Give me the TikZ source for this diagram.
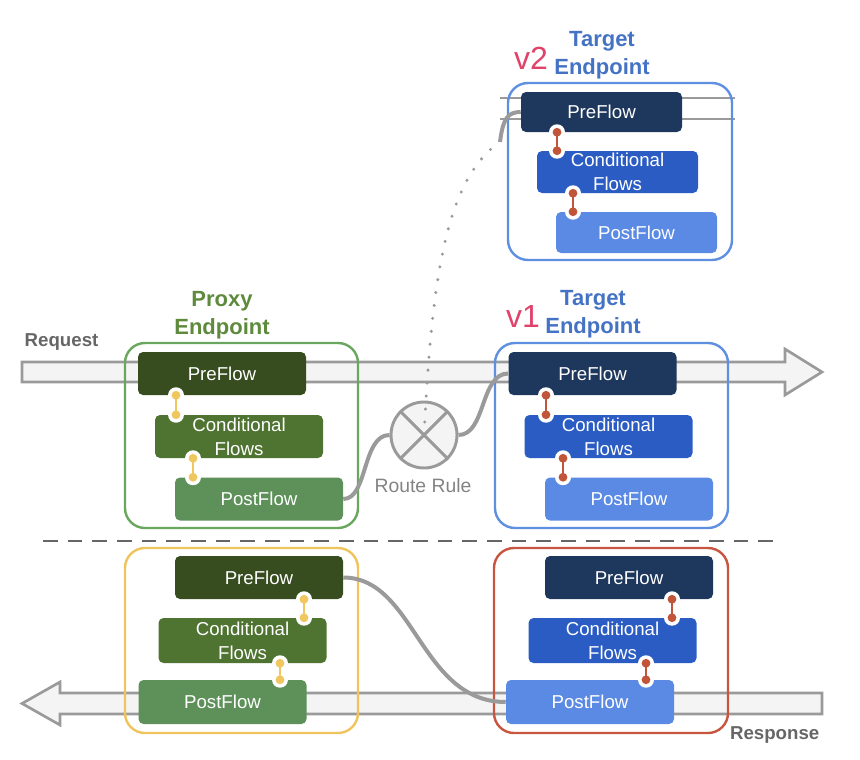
\documentclass[tikz,border=0pt]{standalone}
\usepackage{fontspec}
\setmainfont{Liberation Sans}
\usepackage{xcolor}
\usetikzlibrary{calc}

\definecolor{pxDark}{HTML}{374D20}
\definecolor{pxMid}{HTML}{4F7331}
\definecolor{pxLight}{HTML}{5D9159}
\definecolor{tgDark}{HTML}{1E375C}
\definecolor{tgMid}{HTML}{2A5CC4}
\definecolor{tgLight}{HTML}{5A8AE4}
\definecolor{pxEdge}{HTML}{6AA75E}
\definecolor{tgEdge}{HTML}{5E8FE0}
\definecolor{rsProxyEdge}{HTML}{F0C45C}
\definecolor{rsTargetEdge}{HTML}{C8553F}
\definecolor{pxTitle}{HTML}{5D8A3C}
\definecolor{tgTitle}{HTML}{4472C4}
\definecolor{linkYellow}{HTML}{F0C75E}
\definecolor{linkRed}{HTML}{C0553A}
\definecolor{verPink}{HTML}{E0436A}
\definecolor{wireGray}{HTML}{9A9A9A}
\definecolor{barFill}{HTML}{F4F4F4}
\definecolor{labelGray}{HTML}{666666}

% link with white ring between two stacked flows: colour, upper, lower, x
\newcommand{\flowlink}[4]{%
	\fill[white] (#4,0 |- #2.south) circle (6pt);
	\fill[white] (#4,0 |- #3.north) circle (6pt);
	\draw[#1,line width=2.2pt] (#4,0 |- #2.south) -- (#4,0 |- #3.north);
	\fill[#1] (#4,0 |- #2.south) circle (3.3pt);
	\fill[#1] (#4,0 |- #3.north) circle (3.3pt);
}

\begin{document}
\begin{tikzpicture}[x=0.75pt,y=-0.75pt,
		flowbox/.style={rounded corners=3.75pt,text=white,inner sep=0pt,align=center,
			minimum width=126pt,minimum height=32.25pt,font=\fontsize{14}{18}\selectfont},
		epbox/.style={draw,line width=1.8pt,rounded corners=15pt,inner sep=0pt},
		eptitle/.style={align=center,font=\fontsize{16.5}{21}\selectfont\bfseries},
		vlabel/.style={text=verPink,font=\fontsize{24}{24}\selectfont},
		flowline/.style={wireGray,line width=3pt},
		bararrow/.style={fill=barFill,draw=wireGray,line width=2pt,line join=miter}]
		\useasboundingbox (0,0) rectangle (860,760);
		% request and response bars
		\draw[bararrow] (22,362) -- (785,362) -- (785,349) -- (822,372) -- (785,395) -- (785,382) -- (22,382) -- cycle;
		\draw[bararrow] (822,693) -- (60,693) -- (60,682) -- (22,703.5) -- (60,725) -- (60,714) -- (822,714) -- cycle;
		\draw[wireGray,line width=2pt] (500,98) -- (735,98);
		\draw[wireGray,line width=2pt] (500,119) -- (735,119);
		\node[anchor=west,text=labelGray,font=\fontsize{14}{14}\selectfont\bfseries] (reqLabel) at (20,342) {Request};
		\node[anchor=east,text=labelGray,font=\fontsize{14}{14}\selectfont\bfseries] (resLabel) at (824,735) {Response};
		% separator
		\draw[labelGray,line width=2pt,dash pattern=on 11pt off 7.5pt] (43,541) -- (780,541);
		% proxy endpoint, request
		\node[flowbox,fill=pxDark] (pxPre) at (222,373.5) {PreFlow};
		\node[flowbox,fill=pxMid] (pxCond) at (239,436.5) {Conditional\\Flows};
		\node[flowbox,fill=pxLight] (pxPost) at (259,499) {PostFlow};
		\node[epbox,draw=pxEdge,minimum width=174.75pt,minimum height=138.75pt] (pxBox) at (241.5,435.5) {};
		\node[eptitle,text=pxTitle] (pxTitle) at (222,315) {Proxy\\Endpoint};
		% target endpoint v1
		\node[flowbox,fill=tgDark] (t1Pre) at (592.5,373.5) {PreFlow};
		\node[flowbox,fill=tgMid] (t1Cond) at (608.5,436.5) {Conditional\\Flows};
		\node[flowbox,fill=tgLight] (t1Post) at (629,499) {PostFlow};
		\node[epbox,draw=tgEdge,minimum width=174.75pt,minimum height=138.75pt] (t1Box) at (611.5,435.5) {};
		\node[eptitle,text=tgTitle] (t1Title) at (593,314) {Target\\Endpoint};
		\node[vlabel] (t1Ver) at (523,316) {v1};
		% target endpoint v2
		\node[flowbox,fill=tgDark,minimum width=120.75pt,minimum height=30pt] (t2Pre) at (601.5,112) {PreFlow};
		\node[flowbox,fill=tgMid,minimum width=120.75pt,minimum height=31.5pt] (t2Cond) at (617.5,172) {Conditional\\Flows};
		\node[flowbox,fill=tgLight,minimum width=120.75pt,minimum height=30.75pt] (t2Post) at (636.5,232.5) {PostFlow};
		\node[epbox,draw=tgEdge,minimum width=168pt,minimum height=132.75pt] (t2Box) at (620,171.5) {};
		\node[eptitle,text=tgTitle] (t2Title) at (602,55) {Target\\Endpoint};
		\node[vlabel] (t2Ver) at (531,58) {v2};
		% route rule
		\node[circle,draw=wireGray,fill=barFill,line width=2.2pt,minimum size=49.5pt] (rr) at (424,435) {};
		\draw[wireGray,line width=2.2pt] (rr.north west) -- (rr.south east);
		\draw[wireGray,line width=2.2pt] (rr.north east) -- (rr.south west);
		\node[text=wireGray!85!black,font=\fontsize{14.5}{14.5}\selectfont] (rrLabel) at (423,486) {Route Rule};
		\coordinate (rrEnd) at (500,142);
		\draw[wireGray,line width=2.5pt,line cap=round,dash pattern=on 0pt off 9.75pt] (rr.center) .. controls (432,280) and (445,180) .. (rrEnd);
		\draw[flowline] (rrEnd) .. controls (503,118) and (508,112) .. (t2Pre.west);
		\draw[flowline] (pxPost.east) .. controls (368,499) and (362,435) .. (rr.west);
		\draw[flowline] (rr.east) .. controls (486,435) and (480,373.5) .. (t1Pre.west);
		% response side
		\node[flowbox,fill=pxDark] (rpPre) at (259,577.5) {PreFlow};
		\node[flowbox,fill=pxMid,minimum height=33.75pt] (rpCond) at (242.5,640.5) {Conditional\\Flows};
		\node[flowbox,fill=pxLight,minimum height=33pt] (rpPost) at (222.5,702) {PostFlow};
		\node[epbox,draw=rsProxyEdge,minimum width=174.75pt,minimum height=138.75pt] (rpBox) at (241.5,640.5) {};
		\node[flowbox,fill=tgDark] (rtPre) at (629,577.5) {PreFlow};
		\node[flowbox,fill=tgMid,minimum height=33.75pt] (rtCond) at (612.5,640.5) {Conditional\\Flows};
		\node[flowbox,fill=tgLight,minimum height=33pt] (rtPost) at (590,702) {PostFlow};
		\node[epbox,draw=rsTargetEdge,minimum width=175.5pt,minimum height=138.75pt] (rtBox) at (611,640.5) {};
		\draw[flowline] (rpPre.east) .. controls (415,577.5) and (420,702) .. (rtPost.west);
		% links between flows
		\flowlink{linkYellow}{pxPre}{pxCond}{176}
		\flowlink{linkYellow}{pxCond}{pxPost}{193}
		\flowlink{linkRed}{t1Pre}{t1Cond}{546}
		\flowlink{linkRed}{t1Cond}{t1Post}{563}
		\flowlink{linkRed}{t2Pre}{t2Cond}{557}
		\flowlink{linkRed}{t2Cond}{t2Post}{573}
		\flowlink{linkYellow}{rpPre}{rpCond}{304}
		\flowlink{linkYellow}{rpCond}{rpPost}{280}
		\flowlink{linkRed}{rtPre}{rtCond}{672}
		\flowlink{linkRed}{rtCond}{rtPost}{646}
	\end{tikzpicture}
\end{document}
